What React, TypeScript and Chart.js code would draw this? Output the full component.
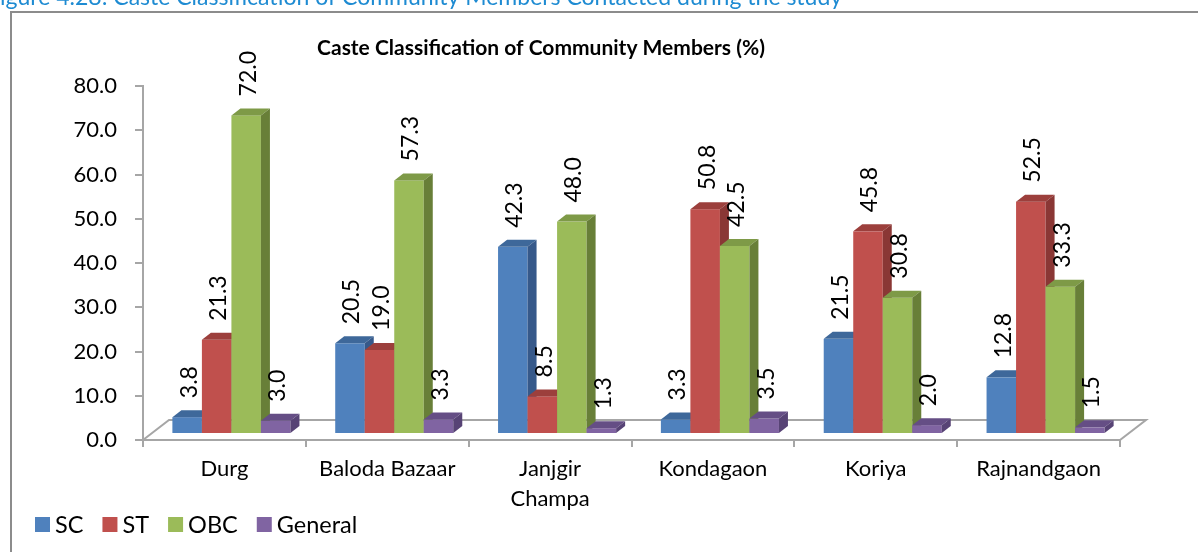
import React, { useEffect, useRef } from "react";
import { Chart, registerables } from "chart.js";

Chart.register(...registerables);

const categories: (string | string[])[] = [
  "Durg",
  "Baloda Bazaar",
  ["Janjgir", "Champa"],
  "Kondagaon",
  "Koriya",
  "Rajnandgaon",
];
const seriesNames = ["SC", "ST", "OBC", "General"];
const scValues = [3.8, 20.5, 42.3, 3.3, 21.5, 12.8];
const stValues = [21.3, 19.0, 8.5, 50.8, 45.8, 52.5];
const obcValues = [72.0, 57.3, 48.0, 42.5, 30.8, 33.3];
const generalValues = [3.0, 3.3, 1.3, 3.5, 2.0, 1.5];
const yTickMax = 80;
const yTickStep = 10;
const chartTitle = "Caste Classification of Community Members (%)";
const captionText =
  "Figure 4.28: Caste Classification of Community Members Contacted during the study";

const frontColors = ["#4F81BD", "#C0504D", "#9BBB59", "#8064A2"];
const topColors = ["#3E689A", "#9C3F3C", "#7E9A47", "#654E85"];
const sideColors = ["#36598A", "#8A3735", "#687F38", "#574375"];

const FONT = "Lato, 'Open Sans', sans-serif";

export default function App() {
  const ref = useRef<HTMLCanvasElement | null>(null);

  useEffect(() => {
    const canvas = ref.current;
    if (!canvas) return;

    const seriesData = [scValues, stValues, obcValues, generalValues];

    const bar3d = {
      id: "bar3d",
      beforeDatasetsDraw(chart: any) {
        const ctx = chart.ctx;
        const area = chart.chartArea;
        const fdx = 26,
          fdy = -20;
        ctx.save();
        ctx.beginPath();
        ctx.moveTo(area.left, area.bottom);
        ctx.lineTo(area.left + fdx, area.bottom + fdy);
        ctx.lineTo(area.right + fdx, area.bottom + fdy);
        ctx.lineTo(area.right, area.bottom);
        ctx.closePath();
        ctx.fillStyle = "#FFFFFF";
        ctx.fill();
        ctx.strokeStyle = "#A6A6A6";
        ctx.lineWidth = 2;
        ctx.stroke();
        ctx.restore();

        const sx = 7,
          sy = -6,
          dx = 9,
          dy = -7;
        const nCat = categories.length;
        const labels: { x: number; y: number; t: string }[] = [];
        for (let c = 0; c < nCat; c++) {
          for (let d = 0; d < seriesData.length; d++) {
            const meta = chart.getDatasetMeta(d);
            const el = meta.data[c];
            if (!el) continue;
            const w = el.width;
            const x0 = el.x - w / 2 + sx;
            const x1 = el.x + w / 2 + sx;
            const yT = el.y + sy;
            const yB = el.base + sy;
            ctx.save();
            ctx.fillStyle = frontColors[d];
            ctx.fillRect(x0, yT, x1 - x0, yB - yT);
            ctx.beginPath();
            ctx.moveTo(x0, yT);
            ctx.lineTo(x1, yT);
            ctx.lineTo(x1 + dx, yT + dy);
            ctx.lineTo(x0 + dx, yT + dy);
            ctx.closePath();
            ctx.fillStyle = topColors[d];
            ctx.fill();
            ctx.beginPath();
            ctx.moveTo(x1, yT);
            ctx.lineTo(x1 + dx, yT + dy);
            ctx.lineTo(x1 + dx, yB + dy);
            ctx.lineTo(x1, yB);
            ctx.closePath();
            ctx.fillStyle = sideColors[d];
            ctx.fill();
            ctx.restore();
            labels.push({
              x: (x0 + x1) / 2 + 2,
              y: yT + dy - 12,
              t: seriesData[d][c].toFixed(1),
            });
          }
        }
        ctx.save();
        ctx.fillStyle = "#000000";
        ctx.font = `23px ${FONT}`;
        ctx.textAlign = "left";
        ctx.textBaseline = "middle";
        for (const l of labels) {
          ctx.save();
          ctx.translate(l.x, l.y);
          ctx.rotate(-Math.PI / 2);
          ctx.fillText(l.t, 0, 0);
          ctx.restore();
        }
        ctx.restore();
        return false;
      },
      afterDraw(chart: any) {
        const ctx = chart.ctx;
        ctx.save();
        ctx.strokeStyle = "#8C8C8C";
        ctx.lineWidth = 2;
        ctx.strokeRect(11, 12, 1400, 800);
        ctx.fillStyle = "#1E8BD2";
        ctx.font = `23px ${FONT}`;
        ctx.textAlign = "left";
        ctx.textBaseline = "alphabetic";
        ctx.fillText(captionText, -13, 5);
        ctx.fillStyle = "#000000";
        ctx.font = `bold 21px ${FONT}`;
        ctx.textAlign = "center";
        ctx.textBaseline = "middle";
        ctx.fillText(chartTitle, 541, 48);
        ctx.font = `23.5px ${FONT}`;
        ctx.textAlign = "left";
        let x = 35;
        const yBox = 517;
        for (let i = 0; i < seriesNames.length; i++) {
          ctx.fillStyle = frontColors[i];
          ctx.fillRect(x, yBox, 15, 15);
          ctx.fillStyle = "#000000";
          ctx.fillText(seriesNames[i], x + 20, yBox + 8);
          x += 20 + ctx.measureText(seriesNames[i]).width + 19;
        }
        ctx.restore();
      },
    };

    const chart = new Chart(canvas, {
      type: "bar",
      data: {
        labels: categories,
        datasets: seriesNames.map((name, i) => ({
          label: name,
          data: seriesData[i],
          backgroundColor: frontColors[i],
          categoryPercentage: 0.725,
          barPercentage: 1,
        })),
      },
      options: {
        responsive: false,
        animation: false,
        devicePixelRatio: 1,
        layout: { padding: { left: 0, top: 86, right: 78, bottom: 0 } },
        plugins: {
          legend: { display: false },
          title: { display: false },
          tooltip: { enabled: false },
        },
        scales: {
          x: {
            grid: {
              display: true,
              drawOnChartArea: false,
              drawTicks: true,
              tickLength: 7,
              color: "#A6A6A6",
              lineWidth: 2,
              offset: true,
            },
            border: { display: true, color: "#A6A6A6", width: 2 },
            ticks: {
              color: "#000000",
              font: { family: FONT, size: 22, lineHeight: 1.35 },
              padding: 7,
              maxRotation: 0,
              autoSkip: false,
            },
            afterFit(scale: any) {
              scale.height = 112;
            },
          },
          y: {
            min: 0,
            max: yTickMax,
            grid: {
              display: true,
              drawOnChartArea: false,
              drawTicks: true,
              tickLength: 8,
              color: "#A6A6A6",
              lineWidth: 2,
            },
            border: { display: true, color: "#A6A6A6", width: 2 },
            ticks: {
              stepSize: yTickStep,
              color: "#000000",
              font: { family: FONT, size: 22 },
              padding: 18,
              callback: (v: any) => Number(v).toFixed(1),
            },
            afterFit(scale: any) {
              scale.width = 143;
            },
          },
        },
      },
      plugins: [bar3d],
    });

    return () => {
      chart.destroy();
    };
  }, []);

  return (
    <div
      style={{
        position: "fixed",
        left: 0,
        top: 0,
        width: 1198,
        height: 552,
        background: "#FFFFFF",
      }}
    >
      <canvas ref={ref} width={1198} height={552} style={{ display: "block" }} />
    </div>
  );
}
